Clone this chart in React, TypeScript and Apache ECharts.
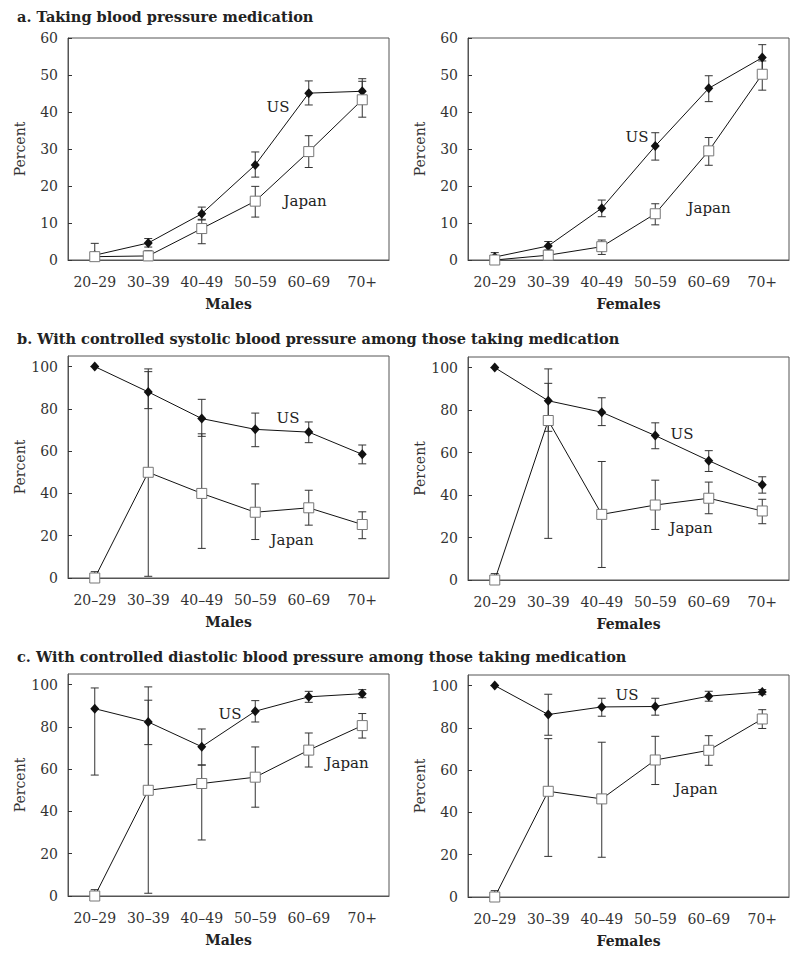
import React, { useEffect, useRef } from "react";
import * as echarts from "echarts";

const ages = ["20–29", "30–39", "40–49", "50–59", "60–69", "70+"];

// a. Taking blood pressure medication
const usMaleMed = [1.3, 4.6, 12.5, 25.7, 45.1, 45.6];
const usMaleMedLo = [0, 3.5, 10.8, 22.4, 41.9, 42.3];
const usMaleMedHi = [4.5, 5.8, 14.3, 29.2, 48.4, 49.0];
const jpMaleMed = [0.9, 1.1, 8.5, 15.9, 29.3, 43.3];
const jpMaleMedLo = [0, 0.3, 4.4, 11.6, 25.0, 38.6];
const jpMaleMedHi = [2.0, 2.5, 11.0, 19.9, 33.6, 48.3];

const usFemMed = [0.8, 3.8, 14.0, 30.8, 46.4, 54.7];
const usFemMedLo = [0, 2.7, 11.7, 27.0, 42.8, 51.1];
const usFemMedHi = [2.0, 5.0, 16.2, 34.4, 49.8, 58.2];
const jpFemMed = [0, 1.3, 3.6, 12.5, 29.5, 50.2];
const jpFemMedLo = [0, 0.5, 1.5, 9.5, 25.6, 45.9];
const jpFemMedHi = [0, 2.0, 5.4, 15.2, 33.1, 53.8];

// b. Controlled systolic
const usMaleSys = [100, 88.0, 75.4, 70.3, 69.0, 58.5];
const usMaleSysLo = [100, 80.1, 67.0, 62.1, 64.0, 54.0];
const usMaleSysHi = [100, 97.6, 84.5, 78.0, 73.8, 62.9];
const jpMaleSys = [0, 50, 40, 31.1, 33.2, 25.3];
const jpMaleSysLo = [0, 0.8, 14, 18.2, 25.0, 18.6];
const jpMaleSysHi = [3, 98.9, 68.2, 44.5, 41.5, 31.3];

const usFemSys = [100, 84.4, 79.0, 68.0, 56.2, 44.8];
const usFemSysLo = [100, 70, 72.7, 61.8, 51.1, 40.9];
const usFemSysHi = [100, 99.4, 85.8, 74.0, 60.9, 48.6];
const jpFemSys = [0, 75.1, 30.9, 35.3, 38.5, 32.5];
const jpFemSysLo = [0, 19.6, 5.9, 23.8, 31.2, 26.5];
const jpFemSysHi = [3, 92.6, 55.8, 47.0, 46.1, 38.0];

// c. Controlled diastolic
const usMaleDia = [88.6, 82.3, 70.6, 87.4, 94.2, 95.7];
const usMaleDiaLo = [57.2, 71.6, 61.9, 82.3, 91.6, 93.8];
const usMaleDiaHi = [98.4, 92.6, 79.0, 92.4, 96.8, 97.6];
const jpMaleDia = [0, 50.0, 53.2, 56.2, 69.0, 80.6];
const jpMaleDiaLo = [0, 1.3, 26.5, 42.0, 61.0, 74.7];
const jpMaleDiaHi = [3, 98.9, 62, 70.5, 77.1, 86.3];

const usFemDia = [100, 86.3, 89.9, 90.1, 95.0, 97.0];
const usFemDiaLo = [100, 76.5, 85.5, 86.0, 92.6, 95.7];
const usFemDiaHi = [100, 95.9, 94.0, 94.0, 97.3, 98.1];
const jpFemDia = [0, 50.0, 46.4, 64.8, 69.4, 84.2];
const jpFemDiaLo = [0, 19.2, 18.8, 53.2, 62.3, 79.7];
const jpFemDiaHi = [3, 74.9, 73.2, 76.0, 76.3, 88.6];

const titles = [
  "a. Taking blood pressure medication",
  "b. With controlled systolic blood pressure among those taking medication",
  "c. With controlled diastolic blood pressure among those taking medication",
];

const FONT = "DejaVu Serif";

const panels = [
  { left: 68, top: 38, height: 222, max: 60, interval: 10, sex: "Males",
    us: usMaleMed, usLo: usMaleMedLo, usHi: usMaleMedHi, jp: jpMaleMed, jpLo: jpMaleMedLo, jpHi: jpMaleMedHi,
    usLbl: [278, 107], jpLbl: [305, 201] },
  { left: 468, top: 38, height: 222, max: 60, interval: 10, sex: "Females",
    us: usFemMed, usLo: usFemMedLo, usHi: usFemMedHi, jp: jpFemMed, jpLo: jpFemMedLo, jpHi: jpFemMedHi,
    usLbl: [637, 137], jpLbl: [709, 208] },
  { left: 68, top: 356, height: 222, max: 105, interval: 20, sex: "Males",
    us: usMaleSys, usLo: usMaleSysLo, usHi: usMaleSysHi, jp: jpMaleSys, jpLo: jpMaleSysLo, jpHi: jpMaleSysHi,
    usLbl: [288, 418], jpLbl: [292, 540] },
  { left: 468, top: 357, height: 223, max: 105, interval: 20, sex: "Females",
    us: usFemSys, usLo: usFemSysLo, usHi: usFemSysHi, jp: jpFemSys, jpLo: jpFemSysLo, jpHi: jpFemSysHi,
    usLbl: [682, 434], jpLbl: [691, 528] },
  { left: 68, top: 674, height: 222, max: 105, interval: 20, sex: "Males",
    us: usMaleDia, usLo: usMaleDiaLo, usHi: usMaleDiaHi, jp: jpMaleDia, jpLo: jpMaleDiaLo, jpHi: jpMaleDiaHi,
    usLbl: [230, 714], jpLbl: [347, 763] },
  { left: 468, top: 675, height: 222, max: 105, interval: 20, sex: "Females",
    us: usFemDia, usLo: usFemDiaLo, usHi: usFemDiaHi, jp: jpFemDia, jpLo: jpFemDiaLo, jpHi: jpFemDiaHi,
    usLbl: [627, 695], jpLbl: [696, 789] },
];

const errRender = (params: any, api: any) => {
  const idx = api.value(0);
  const lo = api.coord([idx, api.value(1)]);
  const hi = api.coord([idx, api.value(2)]);
  const x = lo[0];
  const w = 4;
  const style = { stroke: "#333", lineWidth: 1, fill: "none" };
  return {
    type: "group",
    children: [
      { type: "line", shape: { x1: x, y1: lo[1], x2: x, y2: hi[1] }, style },
      { type: "line", shape: { x1: x - w, y1: lo[1], x2: x + w, y2: lo[1] }, style },
      { type: "line", shape: { x1: x - w, y1: hi[1], x2: x + w, y2: hi[1] }, style },
    ],
  };
};

export default function App() {
  const ref = useRef<HTMLDivElement>(null);
  useEffect(() => {
    document.body.style.margin = "0";
    if (!ref.current) return;
    const chart = echarts.init(ref.current, null, { renderer: "svg" });
    const grid: any[] = [];
    const xAxis: any[] = [];
    const yAxis: any[] = [];
    const series: any[] = [];
    const graphic: any[] = [];
    panels.forEach((p, i) => {
      grid.push({ left: p.left, top: p.top, width: 321, height: p.height, show: true, borderColor: "#555", borderWidth: 1, backgroundColor: "transparent" });
      xAxis.push({
        type: "category", gridIndex: i, data: ages, boundaryGap: true,
        name: p.sex, nameLocation: "middle", nameGap: 37,
        nameTextStyle: { fontFamily: FONT, fontSize: 14, fontWeight: "bold", color: "#222" },
        axisLine: { lineStyle: { color: "#555" } },
        axisTick: { inside: true, length: 5, alignWithLabel: true, lineStyle: { color: "#333" } },
        axisLabel: { fontFamily: FONT, fontSize: 14, color: "#333", margin: 15, interval: 0, hideOverlap: false },
        splitLine: { show: false },
      });
      yAxis.push({
        type: "value", gridIndex: i, min: 0, max: p.max, interval: p.interval,
        name: "Percent", nameLocation: "middle", nameGap: 41,
        nameTextStyle: { fontFamily: FONT, fontSize: 14, color: "#333" },
        axisLine: { show: true, lineStyle: { color: "#555" } },
        axisTick: { show: true, inside: true, length: 4, lineStyle: { color: "#333" } },
        axisLabel: {
          fontFamily: FONT, fontSize: 14, color: "#333", margin: 10, showMaxLabel: p.max === 60,
          formatter: (v: number) => (v % p.interval === 0 ? String(v) : ""),
        },
        splitLine: { show: false },
      });
      const errData = (lo: number[], hi: number[]) => ages.map((_, k) => [k, lo[k], hi[k]]);
      series.push({ type: "custom", xAxisIndex: i, yAxisIndex: i, renderItem: errRender, data: errData(p.usLo, p.usHi), z: 1, silent: true });
      series.push({ type: "custom", xAxisIndex: i, yAxisIndex: i, renderItem: errRender, data: errData(p.jpLo, p.jpHi), z: 1, silent: true });
      series.push({
        type: "line", name: "US", xAxisIndex: i, yAxisIndex: i, data: p.us, z: 3,
        symbol: "diamond", symbolSize: [9, 10], showAllSymbol: true,
        lineStyle: { color: "#111", width: 1 }, itemStyle: { color: "#111" },
      });
      series.push({
        type: "line", name: "Japan", xAxisIndex: i, yAxisIndex: i, data: p.jp, z: 4,
        symbol: "rect", symbolSize: 10, showAllSymbol: true,
        lineStyle: { color: "#111", width: 1 }, itemStyle: { color: "#fff", borderColor: "#777", borderWidth: 1 },
      });
      graphic.push({ type: "text", x: p.usLbl[0], y: p.usLbl[1], style: { text: "US", fontFamily: FONT, fontSize: 15, fill: "#222", align: "center", verticalAlign: "middle" } });
      graphic.push({ type: "text", x: p.jpLbl[0], y: p.jpLbl[1], style: { text: "Japan", fontFamily: FONT, fontSize: 15, fill: "#222", align: "center", verticalAlign: "middle" } });
    });
    [16, 338, 656].forEach((y, k) => {
      graphic.push({ type: "text", x: 17, y, style: { text: titles[k], fontFamily: FONT, fontSize: 14.5, fontWeight: "bold", fill: "#222", align: "left", verticalAlign: "middle" } });
    });
    chart.setOption({
      animation: false,
      backgroundColor: "#fff",
      grid, xAxis, yAxis, series, graphic,
    });
    return () => chart.dispose();
  }, []);
  return <div ref={ref} style={{ width: 800, height: 956 }} />;
}
